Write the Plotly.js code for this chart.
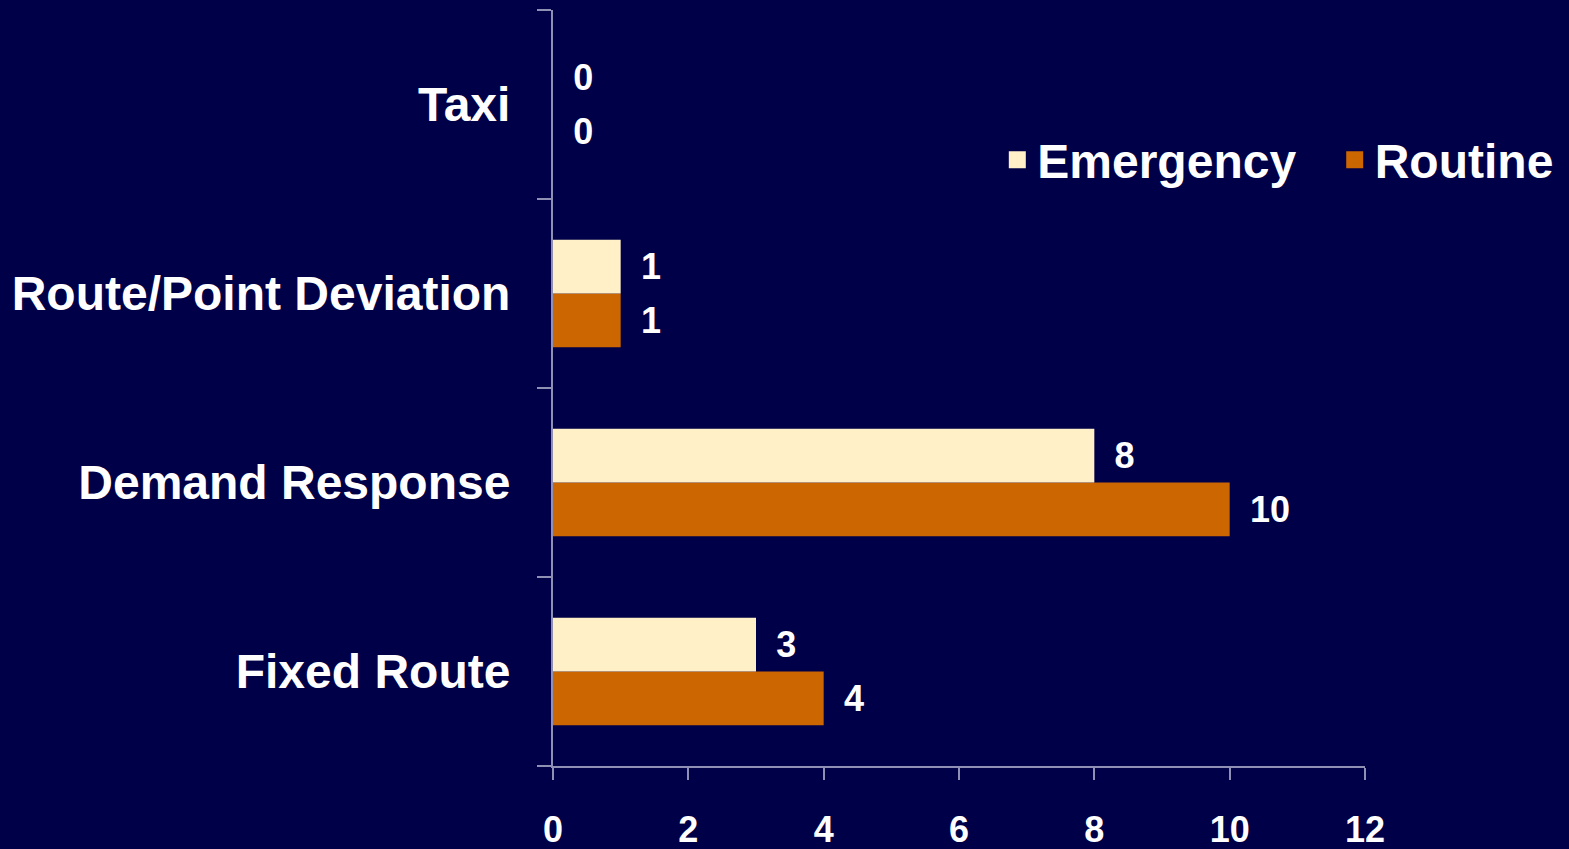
<!DOCTYPE html>
<html>
<head>
<meta charset="utf-8">
<script src="https://cdn.plot.ly/plotly-3.0.1.min.js"></script>
<style>html,body{margin:0;padding:0;background:#000048;}#chart{width:1569px;height:849px;}</style>
</head>
<body>
<div id="chart"></div>
<script>
var categories = ['Fixed Route', 'Demand Response', 'Route/Point Deviation', 'Taxi'];
var emergency = [3, 8, 1, 0];
var routine = [4, 10, 1, 0];
var seriesNames = ['Emergency', 'Routine'];
var xTicks = [0, 2, 4, 6, 8, 10, 12];

var FONT = 'Arial, "Liberation Sans", sans-serif';
var axisColor = '#9090b4';
var cream = '#FFF0C8';
var orange = '#CC6600';
var labelFont = {family: FONT, size: 36, color: '#ffffff', weight: 'bold'};

function label(v) { return '\u00a0\u2009' + v; }

var traces = [
  {
    type: 'bar', orientation: 'h', name: seriesNames[1], offsetgroup: 'r',
    y: categories, x: routine, showlegend: false,
    marker: {color: orange, line: {width: 0}},
    text: routine.map(label),
    textposition: 'outside', cliponaxis: false, textfont: labelFont,
    hoverinfo: 'x+name'
  },
  {
    type: 'bar', orientation: 'h', name: seriesNames[0], offsetgroup: 'e',
    y: categories, x: emergency, showlegend: false,
    marker: {color: cream, line: {width: 0}},
    text: emergency.map(label),
    textposition: 'outside', cliponaxis: false, textfont: labelFont,
    hoverinfo: 'x+name'
  },
  // legend entries (same offset groups, no drawn bars)
  {
    type: 'bar', orientation: 'h', name: seriesNames[1], offsetgroup: 'r',
    y: [categories[0]], x: [null], showlegend: true,
    marker: {color: orange, line: {color: orange, width: 5}},
    hoverinfo: 'skip'
  },
  {
    type: 'bar', orientation: 'h', name: seriesNames[0] + '\u2002\u2009', offsetgroup: 'e',
    y: [categories[0]], x: [null], showlegend: true,
    marker: {color: cream, line: {color: cream, width: 5}},
    hoverinfo: 'skip'
  }
];

var layout = {
  width: 1569, height: 849,
  paper_bgcolor: '#000048', plot_bgcolor: '#000048',
  margin: {l: 553, r: 203, t: 10, b: 83, pad: 0},
  barmode: 'group', bargap: 0.43, bargroupgap: 0,
  showlegend: true,
  legend: {
    orientation: 'h', traceorder: 'reversed',
    x: 0.5465, xanchor: 'left', y: 0.8016, yanchor: 'middle',
    font: {family: FONT, size: 48, color: '#ffffff', weight: 'bold'},
    bgcolor: 'rgba(0,0,0,0)'
  },
  xaxis: {
    range: [0, 12], tickvals: xTicks, ticktext: xTicks.map(String),
    showgrid: false, zeroline: false,
    showline: true, linecolor: axisColor, linewidth: 2,
    ticks: 'outside', ticklen: 12, tickwidth: 2, tickcolor: axisColor,
    ticklabelstandoff: 19,
    tickfont: {family: FONT, size: 36, color: '#ffffff', weight: 'bold'},
    automargin: false, fixedrange: true
  },
  yaxis: {
    type: 'category', categoryorder: 'array', categoryarray: categories,
    range: [-0.5, 3.5],
    showgrid: false, zeroline: false,
    showline: true, linecolor: axisColor, linewidth: 2,
    ticks: 'outside', tickson: 'boundaries', ticklen: 14, tickwidth: 2, tickcolor: axisColor,
    ticklabelstandoff: 31,
    tickfont: {family: FONT, size: 48, color: '#ffffff', weight: 'bold'},
    automargin: false, fixedrange: true
  }
};

Plotly.newPlot('chart', traces, layout, {displayModeBar: false, staticPlot: true});
</script>
</body>
</html>
